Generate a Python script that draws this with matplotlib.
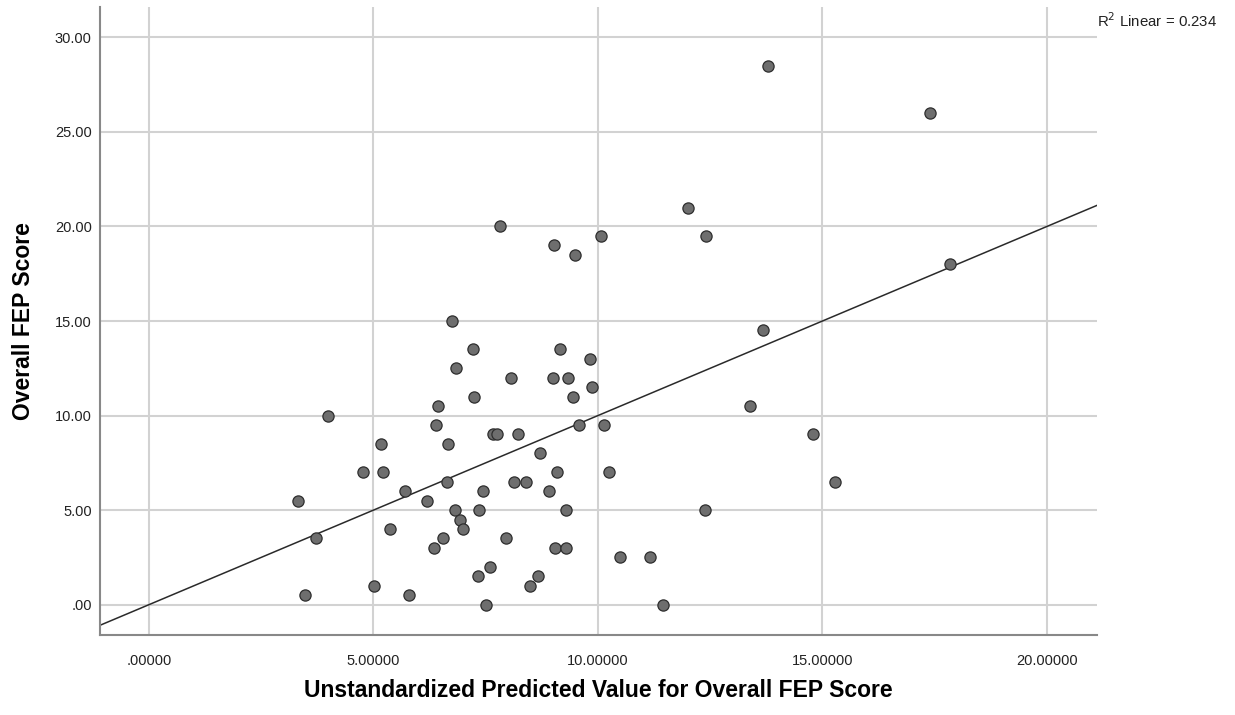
import numpy as np
import matplotlib.pyplot as plt
from matplotlib.ticker import FuncFormatter

plt.rcParams['font.family'] = ['Liberation Sans', 'DejaVu Sans']

# predicted value (x) and observed FEP score (y)
predicted = [6.76, 7.22, 6.84, 8.06, 9.16, 9.83, 9.00, 9.34, 9.86, 9.44,
             7.25, 3.99, 6.44, 6.39, 9.57, 10.13, 7.66, 7.75, 8.21, 5.16,
             6.67, 8.71, 4.76, 5.22, 9.08, 10.24, 6.63, 8.12, 8.40, 5.71,
             7.43, 8.91, 3.32, 6.19, 6.81, 7.36, 9.29, 6.93, 6.99, 5.36,
             3.72, 6.55, 7.95, 6.34, 9.05, 9.28, 10.50, 7.60, 7.34, 8.66,
             5.02, 8.49, 3.47, 5.80, 7.51,
             12.01, 10.06, 12.41, 17.85, 13.68, 13.38, 14.79, 15.29, 12.39,
             11.16, 11.46, 7.81, 9.02, 9.48, 13.79, 17.40]
fep_score = [15.0, 13.5, 12.5, 12.0, 13.5, 13.0, 12.0, 12.0, 11.5, 11.0,
             11.0, 10.0, 10.5, 9.5, 9.5, 9.5, 9.0, 9.0, 9.0, 8.5,
             8.5, 8.0, 7.0, 7.0, 7.0, 7.0, 6.5, 6.5, 6.5, 6.0,
             6.0, 6.0, 5.5, 5.5, 5.0, 5.0, 5.0, 4.5, 4.0, 4.0,
             3.5, 3.5, 3.5, 3.0, 3.0, 3.0, 2.5, 2.0, 1.5, 1.5,
             1.0, 1.0, 0.5, 0.5, 0.0,
             21.0, 19.5, 19.5, 18.0, 14.5, 10.5, 9.0, 6.5, 5.0,
             2.5, 0.0, 20.0, 19.0, 18.5, 28.5, 26.0]

fit_slope = 1.0
fit_intercept = 0.0
r2 = 0.234

x_ticks = [0, 5, 10, 15, 20]
y_ticks = [0, 5, 10, 15, 20, 25, 30]

fig = plt.figure(figsize=(12.35, 7.15), dpi=100)
ax = fig.add_axes([0.081, 0.112, 0.807, 0.878])

xlim = (-1.09, 21.11)
ylim = (-1.6, 31.6)
ax.set_xlim(xlim)
ax.set_ylim(ylim)

ax.set_xticks(x_ticks)
ax.set_yticks(y_ticks)
ax.grid(True, color='#d2d2d2', linewidth=1.5)
ax.set_axisbelow(True)

ax.scatter(predicted, fep_score, s=65, facecolor='#6e6e6e',
           edgecolor='#2e2e2e', linewidth=0.9, zorder=3)

xs = np.array(xlim)
ax.plot(xs, fit_slope * xs + fit_intercept, color='#2a2a2a', linewidth=1.1, zorder=2)

def fmt(decimals):
    def f(v, pos):
        s = f'{v:.{decimals}f}'
        return s[1:] if s.startswith('0') else s
    return f

ax.xaxis.set_major_formatter(FuncFormatter(fmt(5)))
ax.yaxis.set_major_formatter(FuncFormatter(fmt(2)))
ax.tick_params(length=0, labelsize=10.5, colors='#222222')
ax.tick_params(axis='y', pad=6)
ax.tick_params(axis='x', pad=14)

for side in ['top', 'right']:
    ax.spines[side].set_visible(False)
for side in ['left', 'bottom']:
    ax.spines[side].set_color('#888888')
    ax.spines[side].set_linewidth(1.5)

ax.set_xlabel('Unstandardized Predicted Value for Overall FEP Score',
              fontsize=16.5, fontweight='bold', labelpad=8)
ax.set_ylabel('Overall FEP Score', fontsize=16.5, fontweight='bold', labelpad=14)

fig.text(0.888, 1 - 21 / 715, f'R$^2$ Linear = {r2}', fontsize=10.8,
         color='#222222', va='center')

fig.savefig('out.png', dpi=100)
